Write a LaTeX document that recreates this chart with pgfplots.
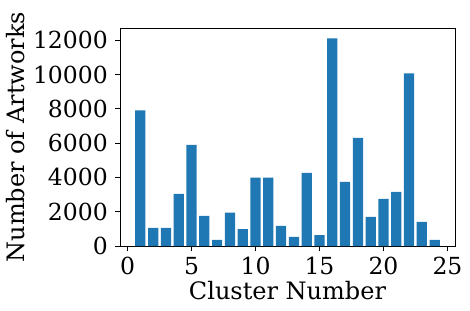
\documentclass[border=0pt]{standalone}
\usepackage{fontspec}
\setmainfont{DejaVu Serif}
\usepackage{pgfplots}
\pgfplotsset{compat=1.18}
\definecolor{mplblue}{HTML}{1F77B4}
\begin{document}
\fontsize{24pt}{28pt}\selectfont
\begin{tikzpicture}
\useasboundingbox (-120pt,-64pt) rectangle (350pt,246pt);
\begin{axis}[
  at={(0pt,0pt)}, anchor=south west,
  scale only axis, width=335pt, height=218pt,
  xmin=-0.59, xmax=25.59, ymin=0, ymax=12710,
  xtick={0,5,10,15,20,25},
  ytick={0,2000,4000,6000,8000,10000,12000},
  scaled y ticks=false,
  /pgf/number format/1000 sep={},
  /pgf/number format/assume math mode=true,
  tick align=outside, tick pos=left,
  major tick length=5pt,
  tick style={black, line width=0.8pt},
  axis line style={line width=0.8pt},
  ticklabel style={font=\fontsize{23.5pt}{28pt}\selectfont},
  label style={font=\fontsize{24pt}{28pt}\selectfont},
  xticklabel style={yshift=2pt},
  yticklabel style={xshift=1pt},
  xlabel={Cluster Number},
  ylabel={Number of Artworks},
  xlabel style={yshift=10pt},
  ylabel style={yshift=-8pt},
  ybar, bar width=0.8,
]
\addplot[fill=mplblue, draw=none] coordinates {
(1,7910) (2,1050) (3,1050) (4,3040) (5,5900) (6,1750) (7,350) (8,1950)
(9,990) (10,3980) (11,3980) (12,1170) (13,530) (14,4270) (15,640)
(16,12100) (17,3740) (18,6310) (19,1700) (20,2750) (21,3160) (22,10060)
(23,1400) (24,350)
};
\end{axis}
\end{tikzpicture}
\end{document}
